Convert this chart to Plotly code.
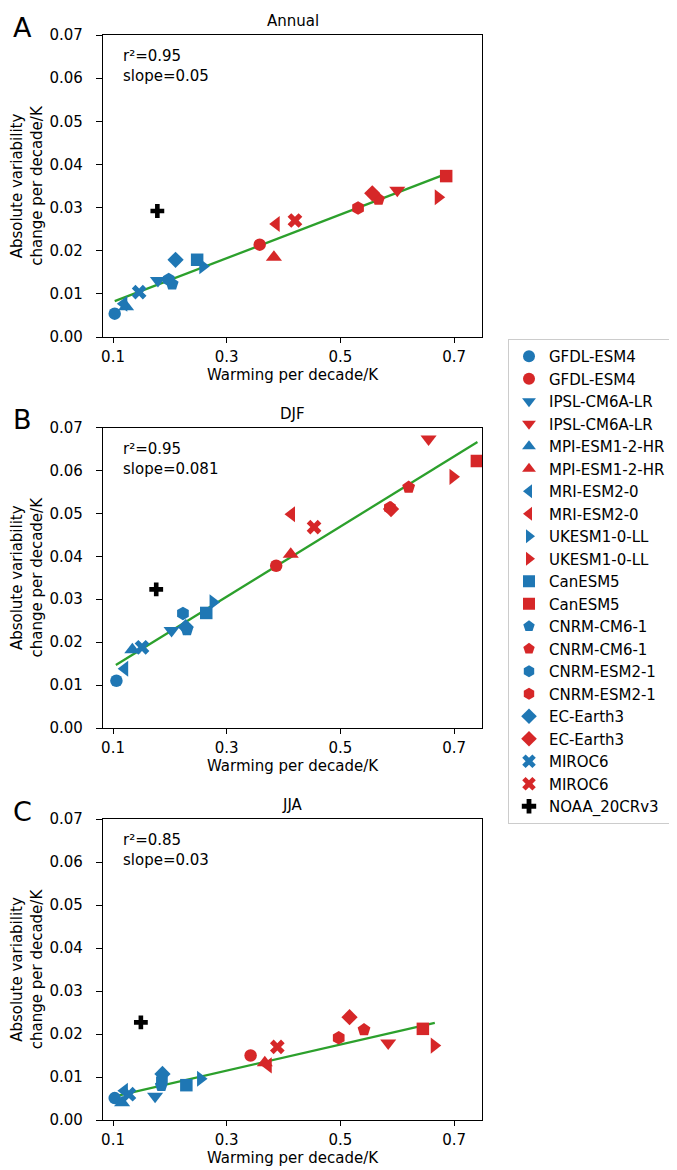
import plotly.graph_objects as go

models = ["GFDL-ESM4", "IPSL-CM6A-LR", "MPI-ESM1-2-HR", "MRI-ESM2-0", "UKESM1-0-LL",
          "CanESM5", "CNRM-CM6-1", "CNRM-ESM2-1", "EC-Earth3", "MIROC6"]
symbols = ["circle", "triangle-down", "triangle-up", "triangle-left", "triangle-right",
           "square", "pentagon", "hexagon", "diamond", "x"]

panel_titles = ["Annual", "DJF", "JJA"]
panel_letters = ["A", "B", "C"]
r2_text = ["r²=0.95<br>slope=0.05", "r²=0.95<br>slope=0.081", "r²=0.85<br>slope=0.03"]

# Annual
ann_blue_x = [0.103, 0.179, 0.123, 0.119, 0.258, 0.248, 0.204, 0.198, 0.210, 0.146]
ann_blue_y = [0.0054, 0.0131, 0.0070, 0.0077, 0.0164, 0.0179, 0.0123, 0.0133, 0.0179, 0.0104]
ann_red_x = [0.358, 0.600, 0.383, 0.387, 0.672, 0.686, 0.567, 0.531, 0.556, 0.420]
ann_red_y = [0.0214, 0.0340, 0.0185, 0.0262, 0.0324, 0.0373, 0.0319, 0.0299, 0.0333, 0.0270]
ann_obs = (0.178, 0.0292)
ann_fit_x = [0.103, 0.686]
ann_fit_y = [0.0083, 0.0378]

# DJF
djf_blue_x = [0.106, 0.203, 0.134, 0.1205, 0.276, 0.264, 0.230, 0.223, 0.228, 0.151]
djf_blue_y = [0.0110, 0.0227, 0.0182, 0.0138, 0.0293, 0.0268, 0.0229, 0.0267, 0.0235, 0.0188]
djf_red_x = [0.387, 0.655, 0.4126, 0.414, 0.698, 0.740, 0.620, 0.587, 0.589, 0.4536]
djf_red_y = [0.0378, 0.0673, 0.0405, 0.0498, 0.0585, 0.0622, 0.0561, 0.0513, 0.0510, 0.0468]
djf_obs = (0.176, 0.0323)
djf_fit_x = [0.105, 0.741]
djf_fit_y = [0.0147, 0.0666]

# JJA
jja_blue_x = [0.103, 0.174, 0.116, 0.120, 0.254, 0.229, 0.185, 0.186, 0.187, 0.128]
jja_blue_y = [0.0051, 0.0055, 0.0040, 0.0068, 0.0096, 0.0081, 0.0080, 0.0093, 0.0107, 0.0060]
jja_red_x = [0.342, 0.584, 0.367, 0.373, 0.665, 0.645, 0.5415, 0.497, 0.516, 0.389]
jja_red_y = [0.0150, 0.0179, 0.0133, 0.0127, 0.0173, 0.0212, 0.0210, 0.0191, 0.0239, 0.0170]
jja_obs = (0.149, 0.0227)
jja_fit_x = [0.103, 0.666]
jja_fit_y = [0.0055, 0.0226]

x_ticks = [0.1, 0.3, 0.5, 0.7]
y_ticks = [0.00, 0.01, 0.02, 0.03, 0.04, 0.05, 0.06, 0.07]

BLUE = "#1f77b4"
RED = "#d62728"
GREEN = "#2ca02c"
FONT = "DejaVu Sans"

panels = [
    (ann_blue_x, ann_blue_y, ann_red_x, ann_red_y, ann_obs, ann_fit_x, ann_fit_y),
    (djf_blue_x, djf_blue_y, djf_red_x, djf_red_y, djf_obs, djf_fit_x, djf_fit_y),
    (jja_blue_x, jja_blue_y, jja_red_x, jja_red_y, jja_obs, jja_fit_x, jja_fit_y),
]

W, H = 677, 1170
x_dom = [95 / W, 474 / W]
y_px = [(27, 329), (419.5, 720), (811, 1112)]

marker_sizes = {"circle": 12.5, "triangle-down": 14, "triangle-up": 14, "triangle-left": 14,
                "triangle-right": 14, "square": 12.5, "pentagon": 13.5, "hexagon": 13.5,
                "diamond": 12.5, "x": 13}

fig = go.Figure()

for p, (bx, by, rx, ry, obs, fx, fy) in enumerate(panels):
    xa = "x" if p == 0 else f"x{p+1}"
    ya = "y" if p == 0 else f"y{p+1}"
    fig.add_trace(go.Scatter(x=fx, y=fy, mode="lines", line=dict(color=GREEN, width=2.3),
                             xaxis=xa, yaxis=ya, showlegend=False, hoverinfo="skip"))
    for i, m in enumerate(models):
        for xs, ys, col in ((bx, by, BLUE), (rx, ry, RED)):
            fig.add_trace(go.Scatter(
                x=[xs[i]], y=[ys[i]], mode="markers", name=m,
                marker=dict(symbol=symbols[i], color=col, size=marker_sizes[symbols[i]],
                            line=dict(width=0)),
                xaxis=xa, yaxis=ya, showlegend=(p == 0)))
    fig.add_trace(go.Scatter(
        x=[obs[0]], y=[obs[1]], mode="markers", name="NOAA_20CRv3",
        marker=dict(symbol="cross", color="black", size=11.5, line=dict(width=0)),
        xaxis=xa, yaxis=ya, showlegend=(p == 0)))

layout = dict(
    width=W, height=H, margin=dict(l=0, r=0, t=0, b=0),
    paper_bgcolor="white", plot_bgcolor="white",
    font=dict(family=FONT, size=14, color="black"),
    legend=dict(x=500 / W, y=1 - 331 / H, xanchor="left", yanchor="top",
                bordercolor="#cccccc", borderwidth=1, font=dict(size=15),
                tracegroupgap=0, itemsizing="constant"),
    annotations=[],
)

for p in range(3):
    top, bot = y_px[p]
    xk = "xaxis" if p == 0 else f"xaxis{p+1}"
    yk = "yaxis" if p == 0 else f"yaxis{p+1}"
    ya = "y" if p == 0 else f"y{p+1}"
    xa = "x" if p == 0 else f"x{p+1}"
    layout[xk] = dict(domain=x_dom, anchor=ya, range=[0.0824, 0.749],
                      tickvals=x_ticks, ticktext=[f"{v:.1f}" for v in x_ticks],
                      ticks="outside", ticklen=5, tickwidth=1, tickcolor="black",
                      showline=True, linecolor="black", linewidth=1.2, mirror=True,
                      showgrid=False, zeroline=False, tickfont=dict(size=15),
                      ticklabelstandoff=1,
                      title=dict(text="Warming per decade/K", font=dict(size=15), standoff=3),
                      automargin=False)
    layout[yk] = dict(domain=[1 - bot / H, 1 - top / H], anchor=xa, range=[0, 0.07],
                      tickvals=y_ticks, ticktext=[f"{v:.2f}" for v in y_ticks],
                      ticks="outside", ticklen=6, tickwidth=1, tickcolor="black",
                      showline=True, linecolor="black", linewidth=1.2, mirror=True,
                      showgrid=False, zeroline=False, tickfont=dict(size=15),
                      ticklabelstandoff=10,
                      title=dict(text="Absolute variability<br>change per decade/K",
                                 font=dict(size=15), standoff=7),
                      automargin=False)
    cx = (x_dom[0] + x_dom[1]) / 2
    layout["annotations"].append(dict(text=panel_titles[p], x=cx, y=1 - (top - 14) / H,
                                      xref="paper", yref="paper", showarrow=False,
                                      font=dict(size=15), xanchor="center", yanchor="middle"))
    layout["annotations"].append(dict(text=panel_letters[p], x=3 / W, y=1 - (top - 8) / H,
                                      xref="paper", yref="paper", showarrow=False,
                                      font=dict(size=27), xanchor="left", yanchor="middle"))
    layout["annotations"].append(dict(text=r2_text[p], x=113 / W, y=1 - (top + 10) / H,
                                      xref="paper", yref="paper", showarrow=False, align="left",
                                      font=dict(size=15), xanchor="left", yanchor="top"))

fig.update_layout(**layout)
fig.write_html("out.html")
